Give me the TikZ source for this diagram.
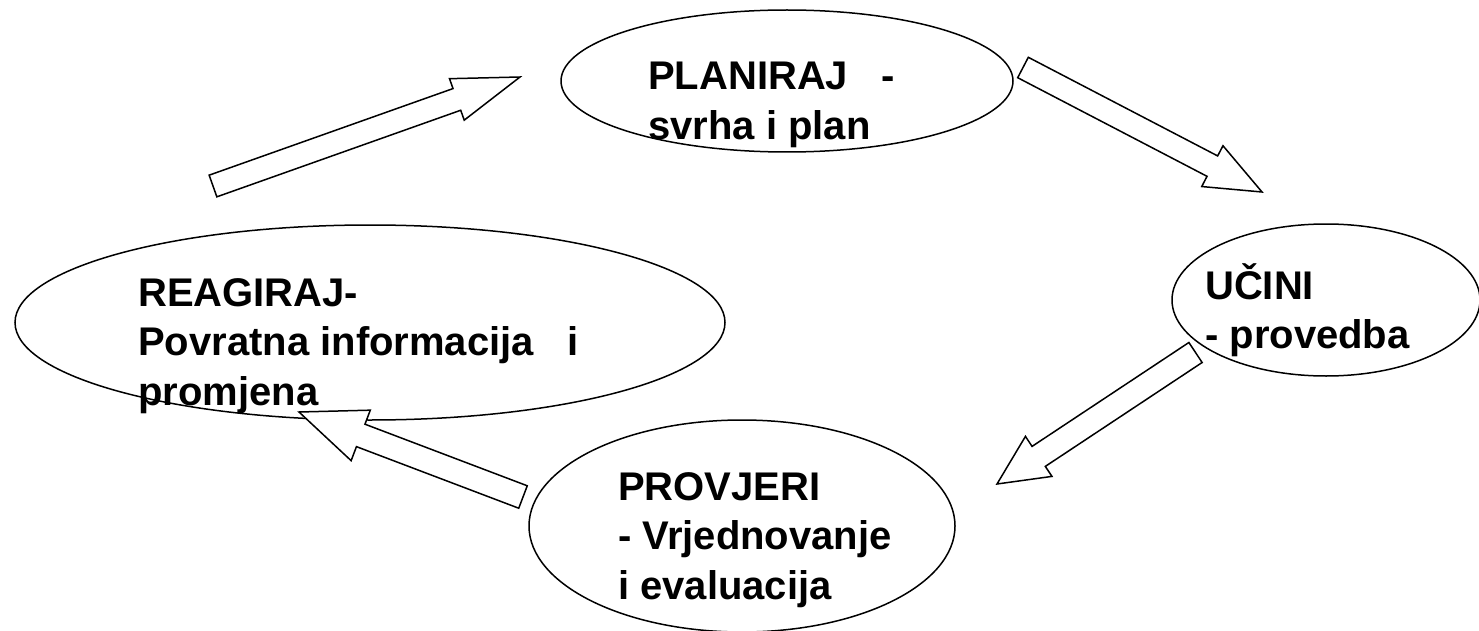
\documentclass[tikz,border=0pt]{standalone}
\usepackage{fontspec}
\setmainfont{Liberation Sans}
\usetikzlibrary{calc,shapes.geometric}
\newcommand\blockarrow[5]{%
  \coordinate (ba-b) at ($(#2)!#5!(#1)$);
  \draw[blk] ($(#1)!#3!90:(#2)$) -- ($(ba-b)!#3!-90:(#1)$) -- ($(ba-b)!#4!-90:(#1)$)
    -- (#2) -- ($(ba-b)!#4!90:(#1)$) -- ($(ba-b)!#3!90:(#1)$) -- ($(#1)!#3!-90:(#2)$) -- cycle;}
\begin{document}
\begin{tikzpicture}[x=1pt,y=-1pt,
  ell/.style={ellipse, draw, fill=white, line width=1.5pt, inner sep=0pt},
  blk/.style={draw, fill=white, line width=1.5pt, line join=miter},
  lbl/.style={anchor=base west, inner sep=0pt, font=\fontsize{40}{49.5}\selectfont\bfseries}]
\useasboundingbox (0,0) rectangle (1479,631);
% ellipses
\node[ell, minimum width=452pt, minimum height=142pt] (plan) at (787,81) {};
\node[ell, minimum width=308pt, minimum height=152pt] (ucini) at (1326,300) {};
\node[ell, minimum width=710pt, minimum height=195pt] (reag) at (370,322.5) {};
\node[ell, minimum width=426pt, minimum height=212pt] (prov) at (742,526) {};
% arrows
\coordinate (a1t) at (213,186);   \coordinate (a1h) at (520,77);
\coordinate (a2t) at (1023,67.5); \coordinate (a2h) at (1262,192);
\coordinate (a3t) at (1195.5,352.5); \coordinate (a3h) at (997,484);
\coordinate (a4t) at (523,497);   \coordinate (a4h) at (299,412);
\blockarrow{a1t}{a1h}{11.5pt}{22pt}{67pt}
\blockarrow{a2t}{a2h}{11.5pt}{23pt}{56pt}
\blockarrow{a3t}{a3h}{12pt}{24pt}{50pt}
\blockarrow{a4t}{a4h}{12pt}{27pt}{66pt}
% texts
\node[lbl] (plantext) at (648,90) {\begin{tabular}[t]{@{}l@{}}PLANIRAJ\ \ \ -\\svrha i plan\end{tabular}};
\node[lbl] (ucinitext) at (1205,299) {\begin{tabular}[t]{@{}l@{}}UČINI\\- provedba\end{tabular}};
\node[lbl] (reagtext) at (138,306) {\begin{tabular}[t]{@{}l@{}}REAGIRAJ-\\Povratna informacija\ \ \ i\\promjena\end{tabular}};
\node[lbl] (provtext) at (618,500) {\begin{tabular}[t]{@{}l@{}}PROVJERI\\- Vrjednovanje\\i evaluacija\end{tabular}};
\end{tikzpicture}
\end{document}
